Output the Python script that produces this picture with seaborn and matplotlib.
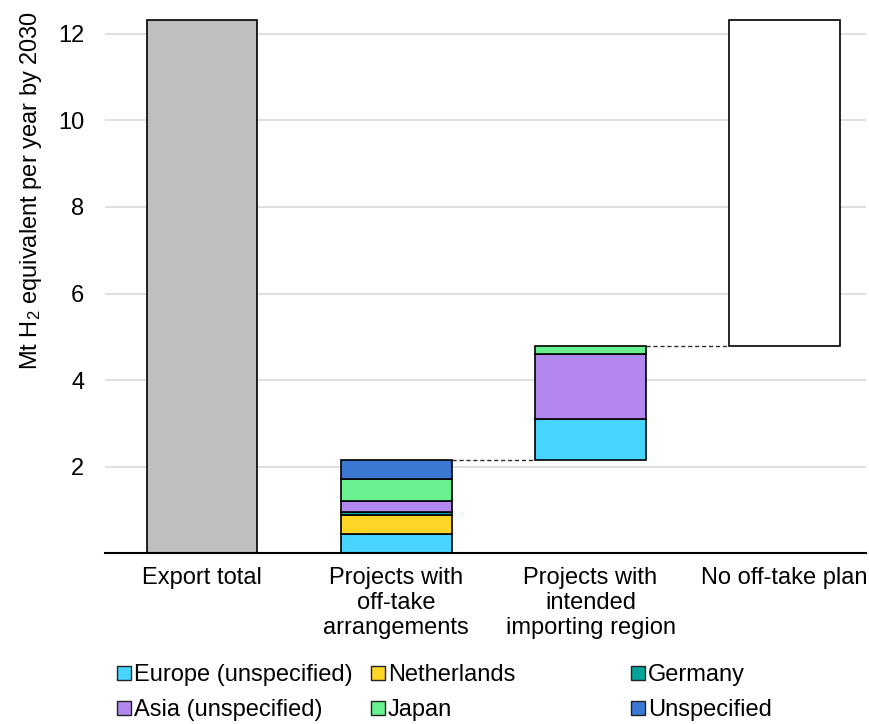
import matplotlib
matplotlib.use("Agg")
import matplotlib.pyplot as plt
import matplotlib.patches as mpatches
import pandas as pd
import seaborn as sns

# Categories on the x axis
categories = ["Export total", "Projects with\noff-take\narrangements",
              "Projects with\nintended\nimporting region", "No off-take plan"]

# Totals (Mt H2 eq per year)
export_total = 12.32

# Stacked segments for the two middle bars
regions = ["Europe (unspecified)", "Netherlands", "Germany",
           "Asia (unspecified)", "Japan", "Unspecified"]
offtake = [0.44, 0.46, 0.05, 0.26, 0.50, 0.44]
intended = [0.95, 0.0, 0.0, 1.51, 0.18, 0.0]

colors = {"Europe (unspecified)": "#47D5FF", "Netherlands": "#FFD526",
          "Germany": "#00A49A", "Asia (unspecified)": "#B287EE",
          "Japan": "#69F08F", "Unspecified": "#3B78D4"}

sns.set_theme(style="whitegrid")
plt.rcParams["font.family"] = ["Liberation Sans", "DejaVu Sans"]
plt.rcParams["mathtext.fontset"] = "custom"
plt.rcParams["mathtext.rm"] = "Liberation Sans"
plt.rcParams["mathtext.default"] = "rm"
plt.rcParams["text.color"] = "black"
plt.rcParams["axes.labelcolor"] = "black"

FS = 17

fig = plt.figure(figsize=(8.7, 7.24), dpi=100)
ax = fig.add_axes([0.1207, 0.2355, 0.875, 0.760])

W = 0.57
edge = dict(edgecolor="black", linewidth=1.2)

def seg(cat, value, bottom, color):
    df = pd.DataFrame({"cat": [cat], "val": [value]})
    sns.barplot(data=df, x="cat", y="val", order=categories, color=color,
                saturation=1, width=W, bottom=bottom, ax=ax, **edge)

# Export total bar
seg(categories[0], export_total, 0, "#BFBFBF")

# off-take bar
b = 0
for r, v in zip(regions, offtake):
    if v > 0:
        seg(categories[1], v, b, colors[r])
        b += v
offtake_top = b

# intended importing region bar starts where off-take ends
b = offtake_top
for r, v in zip(regions, intended):
    if v > 0:
        seg(categories[2], v, b, colors[r])
        b += v
intended_top = b

# remainder: no off-take plan
seg(categories[3], export_total - intended_top, intended_top, "white")

# connector lines
ax.plot([1 + W / 2, 2 - W / 2], [offtake_top, offtake_top], ls=(0, (3, 2)), color="#303030", lw=1)
ax.plot([2 + W / 2, 3 - W / 2], [intended_top, intended_top], ls=(0, (3, 2)), color="#303030", lw=1)

ax.set_xlim(-0.5, 3.42)
ax.set_ylim(0, 12.7)
ax.set_yticks([2, 4, 6, 8, 10, 12])
ax.set_xlabel("")
ax.set_ylabel("Mt H$_2$ equivalent per year by 2030", fontsize=FS, color="black")
ax.yaxis.set_label_coords(-0.08, 0.66)
ax.tick_params(axis="both", labelsize=FS, colors="black", length=0)
ax.tick_params(axis="y", pad=15)
ax.tick_params(axis="x", pad=10)
for t in ax.get_xticklabels():
    t.set_linespacing(1.17)
ax.grid(axis="y", color="#D9D9D9", lw=1.2)
ax.grid(axis="x", visible=False)
ax.set_axisbelow(True)
for s in ["left", "right", "top"]:
    ax.spines[s].set_visible(False)
ax.spines["bottom"].set_color("black")
ax.spines["bottom"].set_linewidth(1.5)

# legend, three columns placed separately to match spacing
cols = [["Europe (unspecified)", "Asia (unspecified)"],
        ["Netherlands", "Japan"],
        ["Germany", "Unspecified"]]
xpos = [0.1345, 0.4265, 0.7253]
for names, x in zip(cols, xpos):
    handles = [mpatches.Patch(facecolor=colors[n], edgecolor="#222222", lw=1, label=n) for n in names]
    fig.legend(handles=handles, loc="upper left", bbox_to_anchor=(x, 0.0825),
               frameon=False, fontsize=FS, handlelength=0.6, handleheight=0.55,
               handletextpad=0.12, labelspacing=0.55, borderpad=0, borderaxespad=0,
               labelcolor="black")

fig.savefig("out.png", dpi=100)
